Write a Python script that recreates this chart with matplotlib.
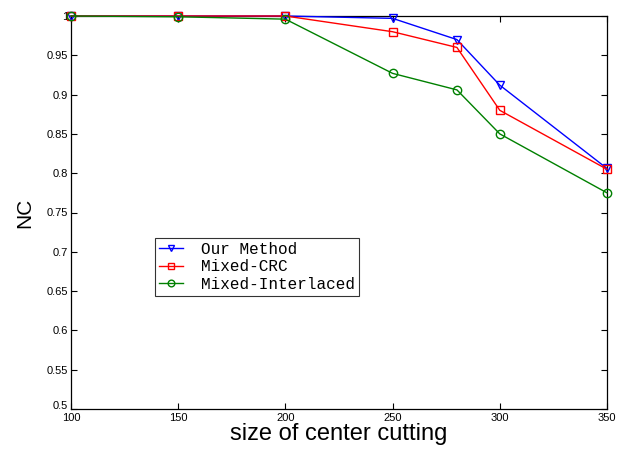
import matplotlib
matplotlib.use("Agg")
import matplotlib.pyplot as plt
from matplotlib.transforms import ScaledTranslation

x = [100, 150, 200, 250, 280, 300, 350]
our_method = [1.0, 1.0, 1.0, 0.997, 0.970, 0.912, 0.806]
mixed_crc = [1.0, 1.0, 1.0, 0.980, 0.960, 0.880, 0.805]
mixed_interlaced = [1.0, 0.999, 0.996, 0.927, 0.906, 0.850, 0.775]
xticks = [100, 150, 200, 250, 300, 350]
yticks = [0.5, 0.55, 0.6, 0.65, 0.7, 0.75, 0.8, 0.85, 0.9, 0.95, 1.0]
ytick_labels = ["0.5", "0.55", "0.6", "0.65", "0.7", "0.75", "0.8", "0.85", "0.9", "0.95", "1"]

fig = plt.figure(figsize=(6.21, 4.49), dpi=100)
ax = fig.add_axes([71/621, 1-409/449, (607-71)/621, (409-16)/449])

kw = dict(mfc="none", ms=6, lw=1, clip_on=False, zorder=3)
ax.plot(x, our_method, color="#0000ff", marker="v", mec="#0000ff", label="Our Method", **kw)
ax.plot(x, mixed_crc, color="#ff0000", marker="s", mec="#ff0000", label="Mixed-CRC", **kw)
ax.plot(x, mixed_interlaced, color="#008000", marker="o", mec="#008000", label="Mixed-Interlaced", **kw)

ax.set_xlim(100, 350)
ax.set_ylim(0.5, 1.0)
ax.set_xticks(xticks)
ax.set_xticklabels([str(v) for v in xticks], fontsize=8, family="Liberation Sans")
ax.set_yticks(yticks)
ax.set_yticklabels(ytick_labels, fontsize=8, family="Liberation Sans")
ax.tick_params(axis="both", direction="in", top=True, right=True, length=4, width=0.8, pad=2)
ax.tick_params(axis="x", pad=3)
for s in ax.spines.values():
    s.set_linewidth(0.9)

lbl = ax.get_yticklabels()[0]
lbl.set_transform(lbl.get_transform() + ScaledTranslation(0, 3/72, fig.dpi_scale_trans))

ax.set_xlabel("size of center cutting", fontsize=17, family="Liberation Sans", labelpad=0)
ax.set_ylabel("NC", fontsize=15, family="Liberation Sans", labelpad=9)

leg = ax.legend(loc="upper left", bbox_to_anchor=(0.157, 0.435), prop={"family": "Liberation Mono", "size": 11.5},
                frameon=True, fancybox=False, edgecolor="black", handlelength=1.5, handletextpad=1.1,
                borderpad=0.25, labelspacing=0.15, borderaxespad=0, markerscale=0.8)
leg.get_frame().set_linewidth(0.8)

fig.savefig("out.png", dpi=100)
